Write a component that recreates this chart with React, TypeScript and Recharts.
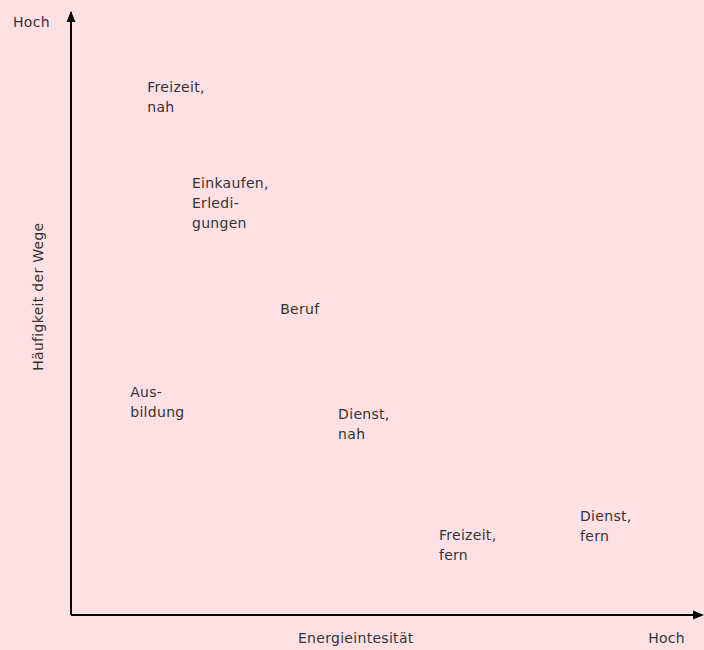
import React from 'react'
import { ScatterChart, Scatter, XAxis, YAxis, ReferenceDot } from 'recharts'

// Wegezwecke: Energieintensität (x) gegen Häufigkeit der Wege (y), Werte 0-100
const labels = ['Freizeit,\nnah', 'Einkaufen,\nErledi-\ngungen', 'Beruf', 'Aus-\nbildung', 'Dienst,\nnah', 'Freizeit,\nfern', 'Dienst,\nfern']
const energie = [12.1, 19.2, 33.2, 9.4, 42.4, 58.4, 80.8]
const haeufigkeit = [86.7, 70.8, 49.9, 36.2, 32.5, 12.4, 15.6]

const data = labels.map((name, i) => ({ name, x: energie[i], y: haeufigkeit[i] }))

const FONT = '"DejaVu Sans", sans-serif'
const TEXT = '#333333'
const SIZE = 14

const LabelShape = (props: any) => {
  const lines = String(props.payload.name).split('\n')
  return (
    <text x={props.cx} y={props.cy} fontFamily={FONT} fontSize={SIZE} fill={TEXT} letterSpacing={0.3}>
      {lines.map((l, i) => (
        <tspan key={i} x={props.cx} dy={i === 0 ? 0 : 20}>{l}</tspan>
      ))}
    </text>
  )
}

const ArrowRight = (props: any) => (
  <path d={`M${props.cx + 3},${props.cy} L${props.cx - 8},${props.cy - 4.5} L${props.cx - 8},${props.cy + 4.5} Z`} fill="#000" />
)
const ArrowUp = (props: any) => (
  <path d={`M${props.cx},${props.cy - 1} L${props.cx - 4.5},${props.cy + 10} L${props.cx + 4.5},${props.cy + 10} Z`} fill="#000" />
)

const XLabel = (props: any) => {
  const vb = props.viewBox
  return (
    <g fontFamily={FONT} fontSize={SIZE} fill={TEXT} letterSpacing={0.3}>
      <text x={vb.x + vb.width * 0.452} y={vb.y + 28} textAnchor="middle">Energieintesität</text>
      <text x={vb.x + vb.width - 16} y={vb.y + 28} textAnchor="end">Hoch</text>
    </g>
  )
}

const YLabel = (props: any) => {
  const vb = props.viewBox
  const cy = vb.y + vb.height * 0.472
  return (
    <g fontFamily={FONT} fontSize={SIZE} fill={TEXT} letterSpacing={0.3}>
      <text x={vb.x + vb.width - 28} y={cy} textAnchor="middle" transform={`rotate(-90, ${vb.x + vb.width - 28}, ${cy})`}>Häufigkeit der Wege</text>
      <text x={vb.x + vb.width - 58} y={vb.y + 15}>Hoch</text>
    </g>
  )
}

export default function App() {
  return (
    <div style={{ position: 'fixed', left: 0, top: 0, width: 704, height: 650, background: '#FFE1E5' }}>
      <ScatterChart width={704} height={650} margin={{ top: 12, right: 3, bottom: 34, left: 70 }}>
        <XAxis
          type="number"
          dataKey="x"
          domain={[0, 100]}
          height={1}
          tick={false}
          tickLine={false}
          axisLine={{ stroke: '#000', strokeWidth: 2 }}
          label={<XLabel />}
        />
        <YAxis
          type="number"
          dataKey="y"
          domain={[0, 100]}
          width={1}
          tick={false}
          tickLine={false}
          axisLine={{ stroke: '#000', strokeWidth: 2 }}
          label={<YLabel />}
        />
        <Scatter data={data} shape={<LabelShape />} isAnimationActive={false} />
        <ReferenceDot x={100} y={0} r={0} shape={<ArrowRight />} ifOverflow="visible" />
        <ReferenceDot x={0} y={100} r={0} shape={<ArrowUp />} ifOverflow="visible" />
      </ScatterChart>
    </div>
  )
}
